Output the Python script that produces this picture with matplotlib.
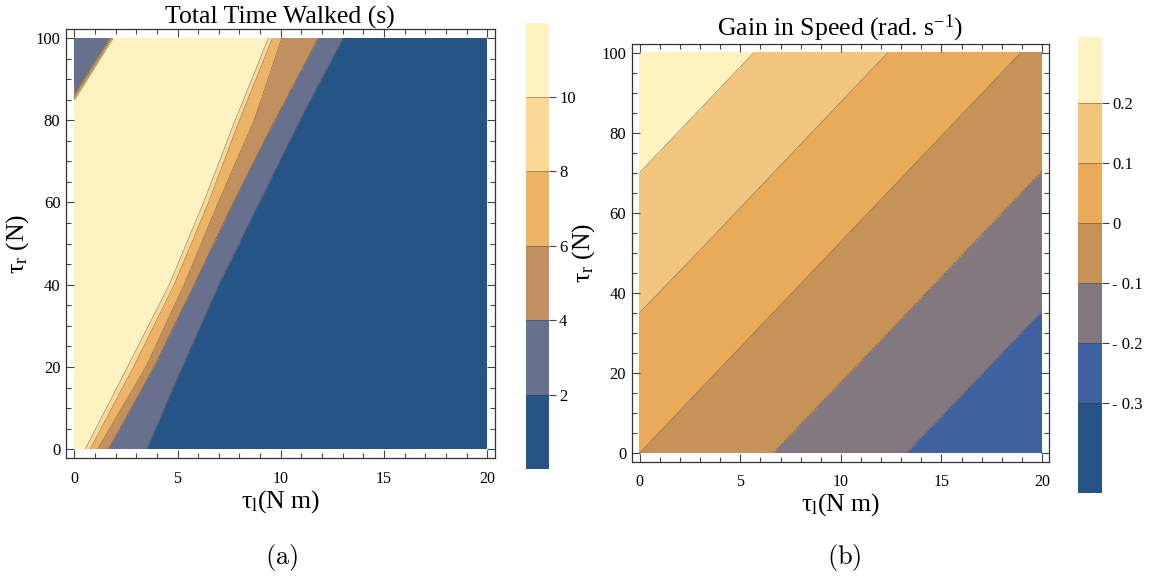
import numpy as np
import matplotlib
matplotlib.use("Agg")
import matplotlib.pyplot as plt
from matplotlib.ticker import MultipleLocator

plt.rcParams['font.family'] = ['Liberation Serif', 'DejaVu Serif']
plt.rcParams['mathtext.fontset'] = 'custom'
plt.rcParams['mathtext.rm'] = 'Liberation Serif'
plt.rcParams['mathtext.it'] = 'Liberation Serif:italic'

# (a) total time walked: where each contour crosses the rows of tau_r
tau_r_rows = [0, 20, 40, 60, 80, 85, 100]
edge_10 = [0.53, 2.58, 4.60, 6.26, 7.79, 8.20, 9.40]
edge_8 = [0.77, 2.87, 4.84, 6.50, 8.00, 8.40, 9.60]
edge_6 = [1.13, 3.47, 5.32, 6.98, 8.71, 9.05, 10.05]
edge_4 = [1.66, 3.87, 5.81, 7.71, 9.72, 10.25, 11.82]
edge_2 = [3.52, 5.24, 7.01, 8.97, 10.93, 11.45, 13.03]
# small low region in the upper left corner (out of view below tau_r = 85)
corner_4 = [-2.0, -2.0, -2.0, -2.0, -2.0, -0.15, 1.72]
corner_6 = [-1.9, -1.9, -1.9, -1.9, -1.9, -0.09, 1.78]
corner_8 = [-1.8, -1.8, -1.8, -1.8, -1.8, -0.03, 1.84]
corner_10 = [-1.7, -1.7, -1.7, -1.7, -1.7, 0.03, 1.90]
time_levels = [0, 2, 4, 6, 8, 10, 12]
time_colors = ['#265486', '#68708f', '#c2905e', '#edb467', '#fcd897', '#fef2c0']

# (b) gain in speed on a regular grid
tau_l_grid = [0, 5, 10, 15, 20]
tau_r_grid = [0, 25, 50, 75, 100]
gain = [
    [0.000, -0.075, -0.151, -0.226, -0.301],
    [0.071, -0.004, -0.079, -0.154, -0.230],
    [0.143, 0.068, -0.008, -0.083, -0.158],
    [0.214, 0.139, 0.064, -0.012, -0.087],
    [0.286, 0.210, 0.135, 0.060, -0.016],
]
gain_levels = [-0.45, -0.3, -0.2, -0.1, 0, 0.1, 0.2, 0.31]
gain_colors = ['#265486', '#4062a3', '#837880', '#c79258', '#e9aa5a', '#f3c67f', '#fef2c0']
gain_ticks = [-0.3, -0.2, -0.1, 0, 0.1, 0.2]
gain_ticklabels = ['- 0.3', '- 0.2', '- 0.1', '0', '0.1', '0.2']

# build the curvilinear table for contourf
n = len(tau_r_rows)
c10 = np.array(corner_10)
e10 = np.array(edge_10)
X = np.column_stack([np.full(n, -3.0), corner_4, corner_6, corner_8, corner_10,
                     (c10 + e10) / 2, edge_10, edge_8, edge_6, edge_4, edge_2,
                     np.full(n, 20.0)])
node_vals = [3, 4, 6, 8, 10, 11, 10, 8, 6, 4, 2, 1]
Z = np.tile(node_vals, (n, 1)).astype(float)
Y = np.tile(np.array(tau_r_rows, dtype=float)[:, None], (1, X.shape[1]))

fig = plt.figure(figsize=(11.53, 5.77), dpi=100)
ax1 = fig.add_axes([0.0572, 0.2057, 0.3718, 0.7435])
cax1 = fig.add_axes([0.4562, 0.1872, 0.0202, 0.7735])
ax2 = fig.add_axes([0.5479, 0.1998, 0.3619, 0.7234])
cax2 = fig.add_axes([0.9352, 0.1450, 0.0208, 0.7903])


def style_axes(ax):
    ax.set_xlim(-0.4, 20.35)
    ax.set_ylim(-2.2, 102.1)
    ax.xaxis.set_major_locator(MultipleLocator(5))
    ax.xaxis.set_minor_locator(MultipleLocator(1))
    ax.yaxis.set_major_locator(MultipleLocator(20))
    ax.yaxis.set_minor_locator(MultipleLocator(5))
    ax.tick_params(which='both', direction='in', top=True, right=True, color='#444', width=0.8)
    ax.tick_params(which='major', length=6)
    ax.tick_params(which='minor', length=3.5)
    ax.tick_params(axis='x', pad=9, labelsize=11.5)
    ax.tick_params(axis='y', pad=4, labelsize=12)
    for s in ax.spines.values():
        s.set_color('#333')
        s.set_linewidth(0.9)
    ax.set_xlabel(r'τ$_{\mathrm{l}}$(N m)', fontsize=18.5, labelpad=1)
    ax.set_ylabel(r'τ$_{\mathrm{r}}$ (N)', fontsize=18.5, labelpad=3)


# left panel
clip1 = plt.Rectangle((0, 0), 20, 100, transform=ax1.transData)
cf1 = ax1.contourf(X, Y, Z, levels=time_levels, colors=time_colors)
cl1 = ax1.contour(X, Y, Z, levels=time_levels[1:-1], colors='#333', linewidths=0.5, alpha=0.55)
cf1.set_clip_path(clip1)
cl1.set_clip_path(clip1)
style_axes(ax1)
ax1.set_title('Total Time Walked (s)', fontsize=18.5, pad=3)

cb1 = fig.colorbar(cf1, cax=cax1, ticks=time_levels[1:-1])
cb1.add_lines(cl1)
cb1.outline.set_visible(False)
cb1.ax.tick_params(direction='out', length=5, width=0.8, color='#444', labelsize=12, pad=2)

# right panel
cf2 = ax2.contourf(tau_l_grid, tau_r_grid, gain, levels=gain_levels, colors=gain_colors)
cl2 = ax2.contour(tau_l_grid, tau_r_grid, gain, levels=gain_levels[1:-1], colors='#333',
                  linewidths=0.5, alpha=0.55)
style_axes(ax2)
ax2.set_title(r'Gain in Speed (rad. s$^{\mathrm{-1}}$)', fontsize=18.5, pad=3)

cb2 = fig.colorbar(cf2, cax=cax2, ticks=gain_ticks, spacing='proportional')
cb2.add_lines(cl2)
cb2.set_ticklabels(gain_ticklabels)
cb2.outline.set_visible(False)
cb2.ax.tick_params(direction='out', length=5, width=0.8, color='#444', labelsize=12, pad=2)

fig.text(0.2443, 0.034, r'$\mathrm{(a)}$', fontsize=19, ha='center', va='center', math_fontfamily='cm')
fig.text(0.732, 0.034, r'$\mathrm{(b)}$', fontsize=19, ha='center', va='center', math_fontfamily='cm')

fig.savefig('out.png', dpi=100)
